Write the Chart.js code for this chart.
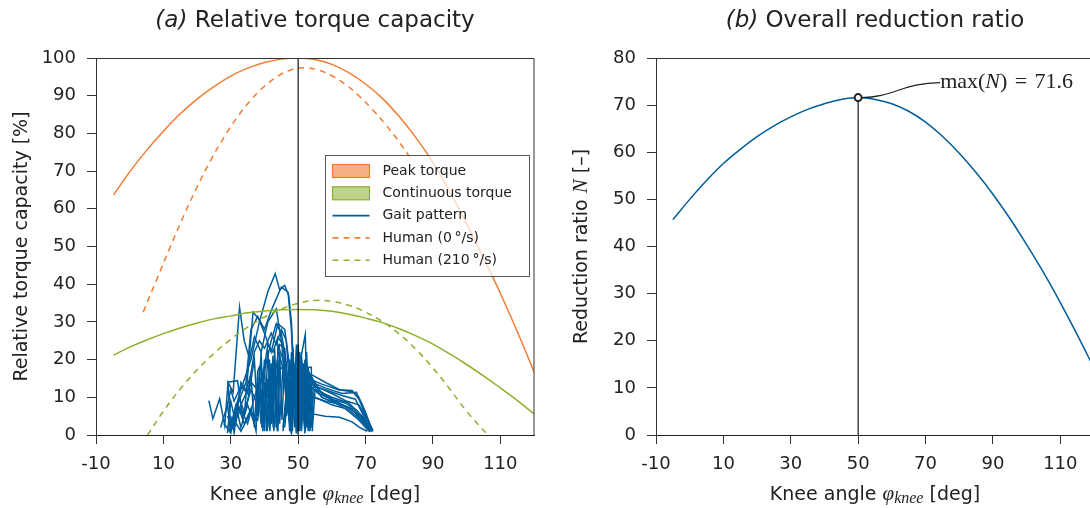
<!DOCTYPE html>
<html>
<head>
<meta charset="utf-8">
<script src="https://cdn.jsdelivr.net/npm/chart.js@4.4.1/dist/chart.umd.min.js"></script>
<style>
  html, body { margin: 0; padding: 0; background: #fff; overflow: hidden; }
  #wrap { position: relative; width: 1090px; height: 508px; overflow: hidden; }
  #left { position: absolute; left: 0; top: 0; }
  #right { position: absolute; left: 545px; top: 0; }
</style>
</head>
<body>
<div id="wrap">
  <canvas id="left" width="545" height="508"></canvas>
  <canvas id="right" width="560" height="508"></canvas>
</div>
<script>
// ---- data ----
const xTicks = [-10, 10, 30, 50, 70, 90, 110];
const optimumAngle = 50;
const maxN = 71.6;

const torqueAngle = [-4.8, 0, 5, 10, 15, 20, 25, 30, 35, 40, 45, 50, 55, 60, 65, 70, 75, 80, 85, 90, 95, 100, 105, 110, 115, 120];
const peakTorque = [63.7, 69.8, 75.5, 80.6, 85.2, 89.1, 92.4, 95.2, 97.3, 98.8, 99.7, 100, 99.6, 98.3, 96.1, 93.1, 89.3, 84.5, 78.8, 72.3, 64.5, 56, 47, 37.6, 27.5, 16.8];
const contTorque = [21.2, 23.3, 25.2, 26.9, 28.4, 29.7, 30.8, 31.6, 32.4, 32.9, 33.2, 33.3, 33.2, 32.8, 32, 31, 29.8, 28.2, 26.3, 24.1, 21.5, 18.7, 15.7, 12.5, 9.2, 5.6];

const human0Angle = [4, 8, 12, 16, 20, 24, 28, 32, 36, 40, 44, 48, 52, 56, 60, 64, 68, 72, 76, 80, 84];
const human0Torque = [32.6, 41.2, 49.8, 58.1, 65.8, 72.8, 79, 84.4, 88.9, 92.5, 95.2, 96.9, 97.4, 96.8, 95.3, 93, 90, 86.4, 82.3, 77.7, 72.6];

const human210Angle = [5.3, 10, 15, 20, 25, 30, 35, 40, 45, 50, 55, 60, 65, 70, 75, 80, 85, 90, 95, 100, 106.3];
const human210Torque = [0, 6.3, 12.2, 17.3, 21.6, 25.4, 28.6, 31.3, 33.4, 34.9, 35.7, 35.4, 34.4, 32.6, 30.1, 26.8, 22.7, 17.8, 12.2, 6.3, 0];

// gait pattern: one list of [angle, torque] per recorded cycle
const gaitCycles = [
  [[29.5,1],[31,6],[33,12],[36,20],[38.5,30],[41,38],[43.2,42.8],[44.5,38.5],[46,39.7],[47.2,37],[48,30],[48.6,18],[47.5,4],[49,17],[50.2,2],[51,16],[53,15],[57,13.5],[62,12],[66,11.5],[68,10],[70,6],[71.6,2],[72.2,1.2]],
  [[23.5,9.1],[24.7,4.3],[26.7,9.6],[28.2,2.5],[29.2,14],[30.7,11.3],[32.6,33.9],[34,25],[35.6,20.2],[37,26],[39,22],[41,30],[43.5,33.5],[45,25],[46.5,12],[47.8,1],[48.5,14],[49.5,0.5],[50.5,19],[52.1,26.6],[52.8,3],[54,14],[58,12.5],[63,11],[67.3,11.3],[70,5],[72,1.5]],
  [[28,3],[30,0.5],[31.5,8],[34,5],[36.6,32.6],[38.6,30.4],[40,28],[42,33],[45,39.2],[47,37.9],[48,28],[48.7,12],[47.5,2],[49.5,16],[50.5,1],[51.5,18],[53.9,18],[54.2,1],[55,12],[60,10],[65,8.5],[69,5],[71.2,1]],
  [[30,5],[31,0.5],[32,8],[34.5,14],[36,28],[38,31.5],[40,27],[42,22],[44,29.5],[46,28],[47.5,18],[46.5,5],[48.5,20],[49.5,0.5],[50.5,22],[51.5,4],[52.5,17],[55,13],[60,11],[64.3,9],[68,8],[70.5,4],[72,1]],
  [[27,2],[29,8],[30,1],[29.2,14],[32,14.4],[33.5,5],[35,9],[37,20],[38,5],[39,22],[40,1],[41,22.5],[42,3],[42.5,21],[43.5,2],[44,24],[45.5,20],[46.5,8],[45.5,1],[47,15],[48.5,22],[49.5,3],[51,20],[52,1],[53,17],[56,12],[61,9],[65,7.3],[69.2,4.7],[71.2,1]],
  [[29,5],[30.5,2],[33,7],[35,3],[37,10],[40,17],[42,25],[43.5,29.5],[45,27],[46,22],[47,12],[46,2],[47.5,20],[48.5,6],[49.5,24],[50.5,2],[51.5,19],[52.5,5],[53.5,16],[57,11],[62,8],[66,6],[70,3],[72,1.5]],
  [[29,2],[31,4],[33,1],[36,6],[38,4],[39,12],[39.5,1],[40.5,14],[41,2],[42,16],[42.8,1],[44,20],[44.5,3],[45.5,18],[46.5,10],[45.5,2],[47,16],[48,2],[49,19],[50,1],[51,18],[52.5,2],[53.5,12],[55,10],[60,8],[64,7],[68,4],[71,1]],
  [[30,1],[32,6],[34,10],[36,14],[38,12],[40,18],[41,24],[42.5,22],[44,26],[45.5,24],[46.5,15],[47.5,1],[48,22],[49,8],[50,24],[51,4],[52,20],[53,1],[54,16],[58,14],[62.3,12],[66,11.8],[68.5,9],[71,3.5],[72.2,1]],
  [[31,4],[32.5,10],[34,6],[36,12],[38,8],[38.5,18],[39.2,2],[40,14],[40.8,1],[41.5,20],[42.2,3],[43,18],[43.8,1],[44.5,22],[45.2,4],[46,20],[47,8],[48,0.5],[48.8,16],[50,4],[51,14],[52,0.5],[53,10],[54.4,5.6],[58,5],[62.3,4.7],[66,3.5],[68.2,2],[70.5,1]],
  [[32,6],[33,2],[35,8],[37,3],[39,12],[41,10],[42,18],[43,15],[44.5,24],[46,23],[47,14],[47.8,3],[48.5,18],[49.5,10],[50.5,20],[51.5,8],[52.5,22],[53.5,1],[54.4,10],[58,9],[63,8],[67,6],[70,3],[72,1]],
  [[28.5,6],[30,12],[31,9],[33,13],[35,11],[37,22],[38.5,25],[40,23],[42,27],[43.5,24],[45,28],[46.5,25],[47.5,12],[48.3,1],[49,18],[50,6],[51,21],[52,3],[53,18],[54,2],[54.5,13],[58,12],[63,10.5],[67,9.5],[70,4],[71.8,1.3]],
  [[29,0.5],[30,9],[31.5,3],[33,14],[34.5,12],[36,16],[37,2],[38,17],[39,19],[39.8,2],[41,15],[41.6,1],[43,21],[43.6,2],[44.5,17],[46,19],[47,6],[48,14],[49,2],[50,17],[51,1],[52,15],[53,2],[53.9,14],[57,10],[61,8.5],[66,7],[69.5,3],[71.5,0.8]],
  [[31,2],[32,8],[34,3],[36,7],[37.5,1],[38,14],[39,3],[40,20],[40.6,1],[42,19],[42.6,2],[43,23],[44,1],[44.5,21],[46,16],[47,6],[48,0.5],[48.7,12],[49.8,1],[50.8,15],[52,2],[53.5,13],[56,11],[60,9.5],[64,8.5],[67.5,6.5],[70.5,2.5],[72,1]]
];

const ratioAngle = [-5, 0, 5, 10, 15, 20, 25, 30, 35, 40, 45, 50, 55, 60, 65, 70, 75, 80, 85, 90, 95, 100, 105, 110, 115, 120];
const ratioN = [45.7, 50, 54, 57.6, 60.6, 63.3, 65.6, 67.5, 69.1, 70.3, 71.2, 71.6, 71.2, 70.3, 68.7, 66.4, 63.4, 59.8, 55.7, 51.1, 46, 40.4, 34.5, 28.1, 21.3, 14.2];

// ---- styling ----
const ORANGE = '#f07d32';
const GREEN = '#8daf2b';
const BLUE = '#005d9b';
const INK = '#222';
const SANS = '"DejaVu Sans", "Noto Sans", sans-serif';
const SERIF = '"Liberation Serif", "DejaVu Serif", serif';

const pts = (xs, ys) => xs.map((x, i) => ({x: x, y: ys[i]}));

function drawParts(ctx, parts, x, y, angle, align) {
  ctx.save();
  ctx.translate(x, y);
  if (angle) ctx.rotate(angle);
  let total = 0;
  parts.forEach(p => { ctx.font = p.font; p.w = ctx.measureText(p.text).width; total += p.w; });
  let cx = align === 'left' ? 0 : -total / 2;
  ctx.textAlign = 'left';
  ctx.textBaseline = 'alphabetic';
  ctx.fillStyle = INK;
  parts.forEach(p => { ctx.font = p.font; ctx.fillText(p.text, cx, p.dy || 0); cx += p.w; });
  ctx.restore();
}

// titles, axis titles and the box around the plot
const frame = {
  id: 'frame',
  afterDraw(chart, args, opts) {
    const ctx = chart.ctx;
    const a = chart.chartArea;
    const mid = (a.left + a.right) / 2;
    ctx.save();
    ctx.strokeStyle = '#333';
    ctx.lineWidth = 1;
    ctx.beginPath();
    ctx.moveTo(a.left, Math.round(a.top) + 0.5);
    ctx.lineTo(a.right, Math.round(a.top) + 0.5);
    ctx.lineTo(a.right, a.bottom);
    ctx.stroke();
    ctx.restore();
    drawParts(ctx, opts.title, mid, 27);
    drawParts(ctx, opts.xTitle, mid, 500);
    drawParts(ctx, opts.yTitle, a.left - 69, (a.top + a.bottom) / 2, -Math.PI / 2);
  }
};

const xTitle = [
  {text: 'Knee angle ', font: `19px ${SANS}`},
  {text: 'φ', font: `italic 21px ${SERIF}`},
  {text: 'knee', font: `italic 16px ${SERIF}`, dy: 3},
  {text: ' [deg]', font: `19px ${SANS}`}
];

function scales(yMax) {
  return {
    x: {
      type: 'linear', min: -10, max: 120,
      afterBuildTicks: s => { s.ticks = xTicks.map(v => ({value: v})); },
      afterFit: s => { s.height = 73; },
      ticks: {font: {family: SANS, size: 18}, color: INK, padding: 10, maxRotation: 0},
      grid: {drawOnChartArea: false, tickLength: 9, color: '#333'},
      border: {color: '#222', width: 1}
    },
    y: {
      min: 0, max: yMax,
      afterFit: s => { s.width = yMax === 100 ? 96 : 111; },
      ticks: {stepSize: 10, font: {family: SANS, size: 18}, color: INK, padding: 11},
      grid: {drawOnChartArea: false, tickLength: 9, color: '#333'},
      border: {color: '#333', width: 1}
    }
  };
}

const baseOpts = {
  responsive: false,
  animation: false,
  events: [],
  layout: {autoPadding: false, padding: {top: 58, right: 11, left: 0, bottom: 0}},
  elements: {point: {radius: 0}}
};

// ---- (a) relative torque capacity ----
const legendItems = [
  {label: 'Peak torque', kind: 'box', color: ORANGE, fill: 'rgba(244,150,90,0.75)'},
  {label: 'Continuous torque', kind: 'box', color: GREEN, fill: 'rgba(170,196,100,0.75)'},
  {label: 'Gait pattern', kind: 'line', color: BLUE},
  {label: 'Human (0\u2009°/s)', kind: 'dash', color: ORANGE},
  {label: 'Human (210\u2009°/s)', kind: 'dash', color: GREEN}
];

const boxLegend = {
  id: 'boxLegend',
  afterDatasetsDraw(chart) {
    const ctx = chart.ctx;
    const a = chart.chartArea;
    const w = 204, h = 121;
    const left = Math.round(a.right - 5 - w) + 0.5;
    const top = Math.round(a.top + 97) + 0.5;
    ctx.save();
    ctx.fillStyle = 'rgba(255,255,255,0.72)';
    ctx.fillRect(left, top, w, h);
    ctx.strokeStyle = '#555';
    ctx.lineWidth = 1;
    ctx.strokeRect(left, top, w, h);
    legendItems.forEach((it, i) => {
      const cy = top + 15.5 + i * 22.3;
      const x0 = left + 7, x1 = left + 44;
      if (it.kind === 'box') {
        ctx.fillStyle = it.fill;
        ctx.fillRect(x0, cy - 6.5, x1 - x0, 13);
        ctx.strokeStyle = it.color;
        ctx.lineWidth = 1.2;
        ctx.strokeRect(x0, cy - 6.5, x1 - x0, 13);
      } else {
        ctx.strokeStyle = it.color;
        ctx.lineWidth = 1.6;
        ctx.setLineDash(it.kind === 'dash' ? [6, 5] : []);
        ctx.beginPath();
        ctx.moveTo(x0, cy);
        ctx.lineTo(x1, cy);
        ctx.stroke();
        ctx.setLineDash([]);
      }
      ctx.fillStyle = INK;
      ctx.font = `14px ${SANS}`;
      ctx.textBaseline = 'middle';
      ctx.fillText(it.label, left + 57, cy);
    });
    ctx.restore();
  }
};

const curve = (data, color, dash) => ({
  data: data, showLine: true, borderColor: color, borderWidth: 1.5,
  borderDash: dash ? [6, 5] : [], pointRadius: 0, tension: 0.4
});

const leftDatasets = [
  {data: [{x: optimumAngle, y: 0}, {x: optimumAngle, y: 100}], showLine: true, borderColor: '#111', borderWidth: 1.2, pointRadius: 0},
  curve(pts(torqueAngle, peakTorque), ORANGE, false),
  curve(pts(human0Angle, human0Torque), ORANGE, true),
  curve(pts(torqueAngle, contTorque), GREEN, false),
  curve(pts(human210Angle, human210Torque), GREEN, true)
].concat(gaitCycles.map(c => ({
  data: c.map(p => ({x: p[0], y: p[1]})),
  showLine: true, borderColor: BLUE, borderWidth: 1.5, pointRadius: 0, tension: 0
})));

new Chart(document.getElementById('left'), {
  type: 'scatter',
  data: {datasets: leftDatasets},
  options: Object.assign({}, baseOpts, {
    scales: scales(100),
    plugins: {
      legend: {display: false},
      tooltip: {enabled: false},
      frame: {
        title: [{text: '(a)', font: `italic 23px ${SANS}`}, {text: ' Relative torque capacity', font: `23px ${SANS}`}],
        xTitle: xTitle,
        yTitle: [{text: 'Relative torque capacity [%]', font: `19px ${SANS}`}]
      }
    }
  }),
  plugins: [frame, boxLegend]
});

// ---- (b) overall reduction ratio ----
const maxLabel = {
  id: 'maxLabel',
  afterDatasetsDraw(chart) {
    const ctx = chart.ctx;
    const px = chart.scales.x.getPixelForValue(optimumAngle);
    const py = chart.scales.y.getPixelForValue(maxN);
    ctx.save();
    ctx.strokeStyle = '#222';
    ctx.lineWidth = 1.2;
    ctx.beginPath();
    ctx.moveTo(px + 3.5, py);
    ctx.bezierCurveTo(px + 35, py, px + 45, py - 15, px + 82, py - 15);
    ctx.stroke();
    ctx.restore();
    drawParts(ctx, [
      {text: 'max(', font: `22px ${SERIF}`},
      {text: 'N', font: `italic 22px ${SERIF}`},
      {text: ')\u2004=\u200471.6', font: `22px ${SERIF}`}
    ], px + 82, py - 10, 0, 'left');
  }
};

new Chart(document.getElementById('right'), {
  type: 'scatter',
  data: {datasets: [
    {data: [{x: optimumAngle, y: maxN}], pointRadius: 3.5, pointBorderWidth: 2,
     pointBackgroundColor: '#fff', pointBorderColor: '#222'},
    {data: [{x: optimumAngle, y: 0}, {x: optimumAngle, y: maxN}], showLine: true, borderColor: '#111', borderWidth: 1.2, pointRadius: 0},
    curve(pts(ratioAngle, ratioN), BLUE, false)
  ]},
  options: Object.assign({}, baseOpts, {
    scales: scales(80),
    plugins: {
      legend: {display: false},
      tooltip: {enabled: false},
      frame: {
        title: [{text: '(b)', font: `italic 23px ${SANS}`}, {text: ' Overall reduction ratio', font: `23px ${SANS}`}],
        xTitle: xTitle,
        yTitle: [
          {text: 'Reduction ratio ', font: `19px ${SANS}`},
          {text: 'N', font: `italic 21px ${SERIF}`},
          {text: ' [–]', font: `19px ${SANS}`}
        ]
      }
    }
  }),
  plugins: [frame, maxLabel]
});
</script>
</body>
</html>
